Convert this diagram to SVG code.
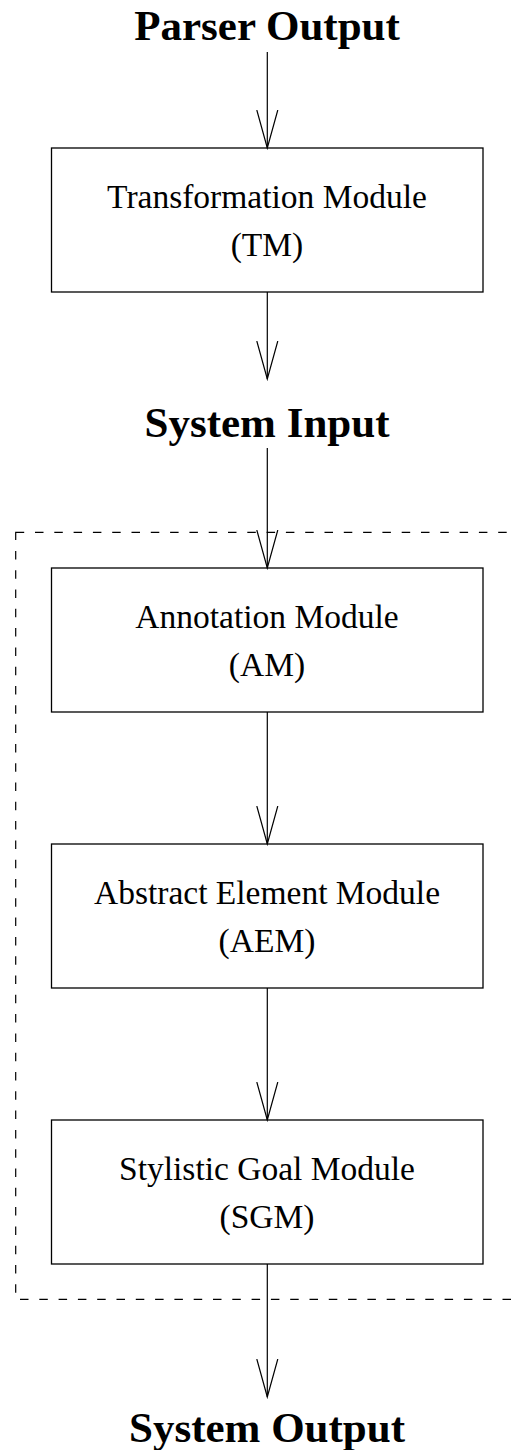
<svg xmlns="http://www.w3.org/2000/svg" width="516" height="1450" viewBox="0 0 516 1450">
<style>
.title{font-family:"Liberation Serif",serif;font-weight:bold;font-size:43px;text-anchor:middle;fill:#000}
.lbl{font-family:"Liberation Serif",serif;font-size:33.5px;text-anchor:middle;fill:#000}
.box{fill:#fff;stroke:#000;stroke-width:1.3}
.conn{stroke:#000;stroke-width:1.2;fill:none}
.group{fill:none;stroke:#000;stroke-width:1.2;stroke-dasharray:8.5 10.8}
</style>
<defs>
<marker id="arr" markerUnits="userSpaceOnUse" markerWidth="40" markerHeight="24" refX="38" refY="12" orient="auto">
<path d="M0,1.5 L38,12 L0,22.5" fill="none" stroke="#000" stroke-width="1.2"/>
</marker>
</defs>
<rect class="group" x="15.7" y="532.3" width="530" height="767"/>
<g id="parser-output"><text class="title" x="267" y="40">Parser Output</text></g>
<g id="tm"><rect class="box" x="51.5" y="148" width="431.5" height="144"/>
<text class="lbl" x="267" y="208">Transformation Module</text>
<text class="lbl" x="267" y="256">(TM)</text></g>
<g id="system-input"><text class="title" x="267" y="437">System Input</text></g>
<g id="am"><rect class="box" x="51.5" y="568" width="431.5" height="144"/>
<text class="lbl" x="267" y="628">Annotation Module</text>
<text class="lbl" x="267" y="676">(AM)</text></g>
<g id="aem"><rect class="box" x="51.5" y="844" width="431.5" height="144"/>
<text class="lbl" x="267" y="904">Abstract Element Module</text>
<text class="lbl" x="267" y="952">(AEM)</text></g>
<g id="sgm"><rect class="box" x="51.5" y="1120" width="431.5" height="144"/>
<text class="lbl" x="267" y="1180">Stylistic Goal Module</text>
<text class="lbl" x="267" y="1228">(SGM)</text></g>
<g id="system-output"><text class="title" x="267" y="1442">System Output</text></g>
<g id="connectors">
<line class="conn" x1="267.3" y1="52" x2="267.3" y2="148" marker-end="url(#arr)"/>
<line class="conn" x1="267.3" y1="292" x2="267.3" y2="379" marker-end="url(#arr)"/>
<line class="conn" x1="267.3" y1="448" x2="267.3" y2="568" marker-end="url(#arr)"/>
<line class="conn" x1="267.3" y1="712" x2="267.3" y2="844" marker-end="url(#arr)"/>
<line class="conn" x1="267.3" y1="988" x2="267.3" y2="1120" marker-end="url(#arr)"/>
<line class="conn" x1="267.3" y1="1264" x2="267.3" y2="1397" marker-end="url(#arr)"/>
</g>
</svg>
